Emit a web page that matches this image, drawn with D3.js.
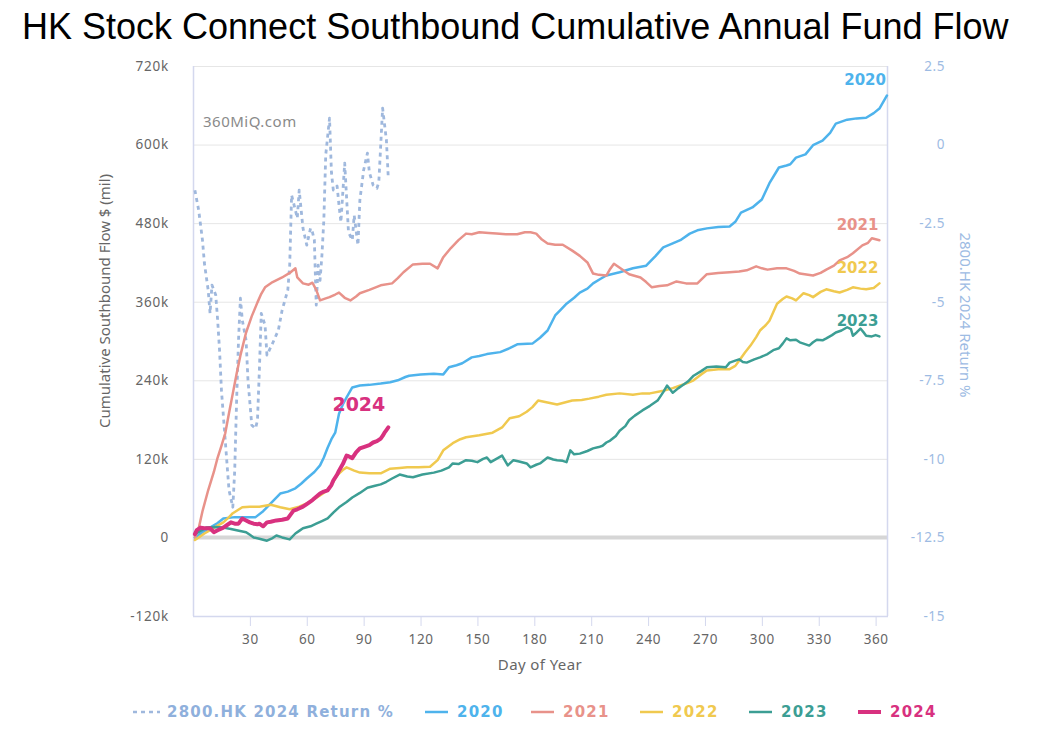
<!DOCTYPE html>
<html>
<head>
<meta charset="utf-8">
<script src="https://cdn.jsdelivr.net/npm/d3@7"></script>
<style>
  html, body { margin: 0; padding: 0; background: #fff; }
  svg { display: block; }
</style>
</head>
<body>
<svg id="chart" width="1042" height="756"></svg>
<script>
// ---------- DATA ----------
const title = "HK Stock Connect Southbound Cumulative Annual Fund Flow";
const xTicks = [30, 60, 90, 120, 150, 180, 210, 240, 270, 300, 330, 360];
const yLeftTicks = [-120, 0, 120, 240, 360, 480, 600, 720];           // in thousands
const yLeftLabels = ["-120k", "0", "120k", "240k", "360k", "480k", "600k", "720k"];
const yRightTicks = [-15, -12.5, -10, -7.5, -5, -2.5, 0, 2.5];
const seriesNames = ["2800.HK 2024 Return %", "2020", "2021", "2022", "2023", "2024"];

// [day of year, cumulative flow (k)]
const flow2020 = [[1,0],[5,8],[9,15],[13,22],[16,29],[22,31],[28,31],[33,31],[37,40],[41,52],[46,67],[50,70],[54,75],[57,82],[60,90],[64,100],[67,110],[69,122],[71,137],[73,150],[75,160],[77,189],[79,203],[81,214],[84,229],[88,232],[93,233],[99,235],[104,237],[108,240],[112,245],[114,247],[120,249],[127,250],[132,249],[135,260],[139,263],[142,266],[147,275],[151,277],[155,280],[162,283],[167,289],[171,295],[179,296],[183,305],[187,316],[191,339],[194,348],[197,357],[201,366],[204,374],[208,380],[211,388],[215,395],[218,400],[225,405],[232,411],[239,415],[244,430],[248,443],[253,449],[257,454],[262,464],[266,469],[271,472],[277,474],[283,475],[286,482],[289,496],[295,504],[300,516],[304,541],[309,565],[313,568],[315,570],[318,580],[323,585],[327,599],[332,606],[336,618],[339,632],[345,638],[350,640],[355,641],[359,648],[362,655],[366,675]];

const flow2021 = [[1,0],[3,14],[5,40],[8,72],[11,100],[13,122],[15,140],[17,159],[19,190],[21,220],[23,250],[25,278],[28,313],[31,338],[34,359],[36,372],[38,382],[42,390],[47,397],[51,404],[54,411],[55,397],[58,388],[61,386],[63,389],[65,378],[67,362],[70,365],[72,367],[75,371],[77,374],[80,366],[83,362],[86,368],[88,373],[93,378],[99,385],[105,388],[108,396],[111,405],[116,417],[121,418],[125,418],[129,411],[132,428],[136,442],[140,454],[144,464],[147,463],[151,466],[156,465],[160,464],[165,463],[171,463],[175,466],[178,466],[181,464],[184,455],[187,449],[191,447],[195,447],[200,438],[204,430],[208,420],[211,403],[214,401],[218,400],[220,410],[222,418],[226,410],[230,402],[236,397],[239,390],[242,382],[246,384],[250,385],[255,391],[260,388],[266,388],[271,402],[277,404],[283,405],[288,406],[292,408],[297,414],[300,411],[303,409],[308,411],[313,411],[317,407],[320,403],[327,400],[331,404],[334,409],[338,415],[341,423],[345,428],[348,434],[353,446],[356,450],[358,457],[362,454]];

const flow2022 = [[1,-4],[3,0],[6,6],[9,11],[13,18],[16,23],[19,31],[21,37],[26,46],[30,47],[35,47],[41,50],[46,46],[51,43],[56,47],[60,52],[63,57],[67,64],[71,72],[74,85],[76,95],[79,103],[81,107],[85,102],[88,99],[93,98],[99,98],[104,105],[109,106],[113,107],[119,107],[125,108],[129,118],[132,133],[137,144],[141,150],[144,153],[151,156],[158,160],[163,168],[167,182],[172,185],[176,192],[179,199],[182,209],[187,206],[192,203],[196,206],[200,209],[205,210],[209,212],[214,215],[218,218],[225,220],[232,218],[237,220],[241,220],[248,224],[253,228],[257,232],[261,236],[264,240],[268,249],[271,255],[277,257],[283,257],[286,262],[288,270],[291,282],[294,293],[297,306],[299,316],[302,324],[304,331],[306,344],[308,357],[311,364],[313,368],[316,365],[318,362],[322,373],[325,370],[327,367],[331,375],[334,379],[338,376],[341,374],[345,378],[348,382],[352,380],[355,379],[359,381],[362,388]];

const flow2023 = [[1,5],[4,10],[7,15],[12,16],[16,15],[20,13],[23,11],[28,8],[30,4],[32,0],[35,-2],[39,-5],[42,-1],[44,3],[47,0],[51,-3],[54,6],[56,10],[58,14],[62,17],[65,21],[68,25],[71,29],[74,38],[77,46],[81,54],[84,61],[88,68],[92,76],[96,79],[99,81],[102,85],[105,90],[109,96],[113,93],[116,92],[121,96],[127,99],[131,102],[135,107],[137,113],[140,112],[144,118],[147,117],[150,115],[153,120],[155,122],[157,115],[160,120],[163,125],[166,110],[169,118],[172,116],[176,113],[178,107],[181,111],[183,113],[187,122],[190,119],[192,118],[195,117],[197,115],[199,133],[201,127],[204,128],[208,132],[211,136],[214,138],[216,140],[218,145],[220,148],[223,155],[225,163],[228,170],[230,179],[233,186],[237,194],[241,201],[245,209],[248,222],[250,232],[253,221],[256,228],[258,232],[261,238],[264,247],[268,254],[271,260],[276,261],[281,260],[283,267],[286,270],[288,272],[290,268],[292,267],[296,272],[299,275],[303,280],[306,286],[309,289],[311,296],[313,304],[315,301],[318,302],[320,298],[322,296],[325,293],[327,298],[329,302],[332,301],[334,304],[337,309],[339,313],[342,316],[345,321],[347,318],[348,308],[350,313],[352,319],[354,312],[355,308],[358,307],[360,309],[362,307]];

const flow2024 = [[1,5],[2,11],[4,15],[6,14],[9,14],[11,8],[13,11],[16,15],[18,19],[20,23],[22,21],[24,21],[26,29],[28,26],[30,23],[32,21],[34,20],[35,21],[37,17],[39,23],[41,24],[44,26],[47,27],[50,29],[53,41],[55,43],[58,47],[60,51],[63,57],[65,62],[67,67],[69,70],[71,72],[73,80],[74,87],[76,96],[77,102],[79,112],[81,125],[82,124],[84,121],[86,130],[88,136],[90,138],[93,141],[95,145],[97,147],[99,151],[100,155],[101,160],[102,164],[103,168]];

// [day of year, return %]
const return2800 = [[1,-1.45],[3,-2.09],[5,-3.04],[6,-3.77],[8,-4.63],[9,-5.37],[10,-4.47],[12,-4.79],[13,-5.59],[14,-6.54],[15,-7.82],[17,-9.41],[18,-10.21],[19,-11.0],[21,-11.54],[22,-10.37],[23,-8.14],[24,-6.23],[25,-4.89],[26,-5.59],[28,-6.23],[29,-7.5],[31,-8.93],[33,-9.03],[34,-8.77],[35,-7.18],[36,-5.37],[38,-5.75],[39,-6.70],[42,-6.32],[45,-5.91],[47,-5.27],[50,-4.63],[51,-3.84],[52,-1.61],[54,-2.09],[55,-2.34],[56,-1.45],[58,-2.66],[60,-3.20],[62,-2.66],[63,-2.79],[64,-3.04],[65,-5.11],[66,-3.84],[67,-4.32],[68,-3.52],[69,-2.40],[70,-0.33],[72,0.84],[73,-0.88],[74,-1.45],[76,-1.32],[77,-1.93],[78,-2.47],[80,-0.59],[82,-2.79],[84,-3.04],[85,-2.25],[87,-3.20],[88,-1.77],[90,-0.81],[92,-0.27],[93,-0.88],[95,-1.29],[97,-1.39],[98,-1.19],[99,-0.02],[100,1.16],[102,0.14],[103,-1.07]];

// ---------- STYLE ----------
const colors = {
  ret: "#9fb8dd",
  "2020": "#4eb3ec",
  "2021": "#e8928a",
  "2022": "#f0c94f",
  "2023": "#3c9e94",
  "2024": "#d8317f"
};
const fontAxis = "'Noto Sans', 'Open Sans', sans-serif";
const fontBold = "'DejaVu Sans', 'Noto Sans', sans-serif";

const svg = d3.select("#chart");
const plot = { left: 193, right: 887, top: 66, bottom: 616 };

const x = d3.scaleLinear().domain([0, 366]).range([plot.left, plot.right]);
const yL = d3.scaleLinear().domain([-120, 720]).range([plot.bottom, plot.top]);
const yR = d3.scaleLinear().domain([-15, 2.5]).range([plot.bottom, plot.top]);

// title
svg.append("text")
  .attr("x", 22).attr("y", 39)
  .attr("font-family", "'Liberation Sans', Arial, sans-serif")
  .attr("font-size", 36)
  .attr("fill", "#000")
  .text(title);

// gridlines
const grid = svg.append("g");
grid.selectAll("line").data(yLeftTicks).join("line")
  .attr("x1", plot.left).attr("x2", plot.right)
  .attr("y1", d => yL(d) + 0.5).attr("y2", d => yL(d) + 0.5)
  .attr("stroke", "#e6e6e6").attr("stroke-width", 1);

// zero line (thicker)
svg.append("line")
  .attr("x1", plot.left).attr("x2", plot.right)
  .attr("y1", yL(0)).attr("y2", yL(0))
  .attr("stroke", "#d6d6d6").attr("stroke-width", 4);

// plot frame
svg.append("line").attr("x1", plot.left + 0.5).attr("x2", plot.left + 0.5)
  .attr("y1", plot.top).attr("y2", plot.bottom).attr("stroke", "#d4d8ee").attr("stroke-width", 1.5);
svg.append("line").attr("x1", plot.right + 0.5).attr("x2", plot.right + 0.5)
  .attr("y1", plot.top).attr("y2", plot.bottom).attr("stroke", "#d4d8ee").attr("stroke-width", 1.5);

// x axis
const xAxis = d3.axisBottom(x).tickValues(xTicks).tickSize(10).tickPadding(6);
const gx = svg.append("g").attr("transform", `translate(0,${plot.bottom})`).call(xAxis);
gx.select(".domain").attr("stroke", "#d4d8ee").attr("stroke-width", 1.5)
  .attr("d", `M${plot.left},0.5H${plot.right + 1}`);
gx.selectAll(".tick line").attr("stroke", "#d4d8ee");
gx.selectAll(".tick text").attr("font-family", fontAxis).attr("font-size", 13.5)
  .attr("letter-spacing", "0.6px")
  .attr("fill", "#666").attr("dy", "0.9em");

svg.append("text")
  .attr("x", (plot.left + plot.right) / 2).attr("y", 670)
  .attr("text-anchor", "middle")
  .attr("font-family", fontAxis).attr("font-size", 15).attr("fill", "#666")
  .attr("letter-spacing", "0.4px")
  .text("Day of Year");

// left axis
const yAxisL = d3.axisLeft(yL).tickValues(yLeftTicks)
  .tickFormat((d, i) => yLeftLabels[i]).tickSize(0).tickPadding(24);
const gyl = svg.append("g").attr("transform", `translate(${plot.left},0)`).call(yAxisL);
gyl.select(".domain").remove();
gyl.selectAll(".tick text").attr("font-family", fontAxis).attr("font-size", 13.5)
  .attr("letter-spacing", "0.8px").attr("fill", "#666");

svg.append("text")
  .attr("transform", `translate(110,${(plot.top + plot.bottom) / 2 - 40}) rotate(-90)`)
  .attr("text-anchor", "middle")
  .attr("font-family", fontAxis).attr("font-size", 15).attr("fill", "#666")
  .text("Cumulative Southbound Flow $ (mil)");

// right axis
const yAxisR = d3.axisRight(yR).tickValues(yRightTicks)
  .tickFormat(d => String(d)).tickSize(0).tickPadding(58);
const gyr = svg.append("g").attr("transform", `translate(${plot.right},0)`).call(yAxisR);
gyr.select(".domain").remove();
gyr.selectAll(".tick text").attr("text-anchor", "end")
  .attr("font-family", fontAxis).attr("font-size", 13.5)
  .attr("letter-spacing", "0.6px").attr("fill", "#9dbbe3");

svg.append("text")
  .attr("transform", `translate(960,${(plot.top + plot.bottom) / 2 - 26}) rotate(90)`)
  .attr("text-anchor", "middle")
  .attr("font-family", fontAxis).attr("font-size", 15).attr("fill", "#9dbbe3")
  .text("2800.HK 2024 Return %");

// watermark
svg.append("text")
  .attr("x", 203).attr("y", 127)
  .attr("font-family", fontAxis).attr("font-size", 15).attr("fill", "#8a8a8a")
  .attr("letter-spacing", "0.5px")
  .text("360MiQ.com");

// lines
const lineL = d3.line().x(d => x(d[0])).y(d => yL(d[1]));
const lineR = d3.line().x(d => x(d[0])).y(d => yR(d[1]));

const lines = svg.append("g").attr("fill", "none").attr("stroke-linejoin", "round").attr("stroke-linecap", "round");

lines.append("path").datum(return2800)
  .attr("d", lineR).attr("stroke", colors.ret).attr("stroke-width", 2.8)
  .attr("stroke-dasharray", "4,4").attr("stroke-linecap", "butt");

const flowSeries = [
  { name: "2020", data: flow2020, w: 2.5 },
  { name: "2021", data: flow2021, w: 2.5 },
  { name: "2022", data: flow2022, w: 2.5 },
  { name: "2023", data: flow2023, w: 2.5 },
  { name: "2024", data: flow2024, w: 4 }
];
flowSeries.forEach(s => {
  lines.append("path").datum(s.data)
    .attr("d", lineL).attr("stroke", colors[s.name]).attr("stroke-width", s.w);
});

// end labels
flowSeries.forEach(s => {
  const last = s.data[s.data.length - 1];
  const big = s.name === "2024";
  svg.append("text")
    .attr("x", x(last[0]) - (big ? 3 : 1))
    .attr("y", yL(last[1]) - (big ? 16 : 10))
    .attr("text-anchor", "end")
    .attr("font-family", fontBold)
    .attr("font-weight", "bold")
    .attr("font-size", big ? 19 : 15)
    .attr("fill", colors[s.name])
    .text(s.name);
});

// legend
const legend = svg.append("g").attr("font-family", fontBold).attr("font-weight", "bold")
  .attr("font-size", 15).attr("letter-spacing", "1.2px");
const legendItems = [
  { name: seriesNames[0], color: colors.ret, dash: true, x: 133, tx: 167, textColor: "#8fb0dc" },
  { name: seriesNames[1], color: colors["2020"], x: 425, tx: 457 },
  { name: seriesNames[2], color: colors["2021"], x: 531, tx: 563 },
  { name: seriesNames[3], color: colors["2022"], x: 640, tx: 672 },
  { name: seriesNames[4], color: colors["2023"], x: 749, tx: 781 },
  { name: seriesNames[5], color: colors["2024"], x: 858, tx: 890 }
];
const ly = 712;
legendItems.forEach(it => {
  legend.append("line")
    .attr("x1", it.x).attr("x2", it.x + (it.dash ? 27 : 23))
    .attr("y1", ly).attr("y2", ly)
    .attr("stroke", it.color)
    .attr("stroke-width", it.name === "2024" ? 4 : 2.5)
    .attr("stroke-dasharray", it.dash ? "4,4" : null);
  legend.append("text")
    .attr("x", it.tx).attr("y", ly).attr("dy", "0.35em")
    .attr("fill", it.textColor || it.color)
    .text(it.name);
});
</script>
</body>
</html>
